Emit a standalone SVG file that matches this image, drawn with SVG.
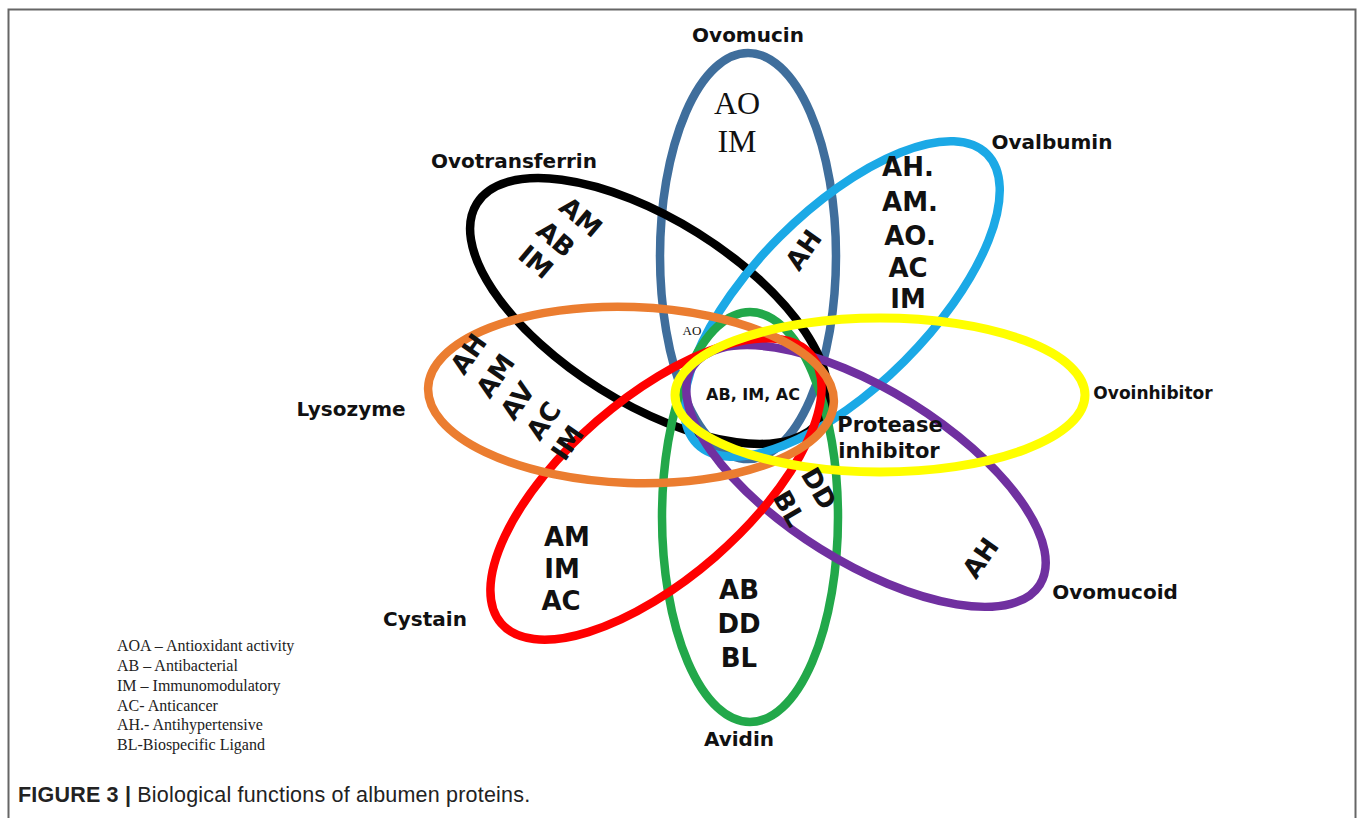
<svg xmlns="http://www.w3.org/2000/svg" width="1360" height="818" viewBox="0 0 1360 818">
<style>
.ring{fill:none;stroke-width:8.5}
.name{font-family:"DejaVu Sans","Liberation Sans",sans-serif;font-weight:bold;font-size:20px;fill:#111;text-anchor:middle}
.lab{font-family:"DejaVu Sans","Liberation Sans",sans-serif;font-weight:bold;font-size:26px;fill:#111;text-anchor:middle}
.ser{font-family:"Liberation Serif","Times New Roman",serif;fill:#111;text-anchor:middle}
.leg{font-family:"Liberation Serif","Times New Roman",serif;font-size:16px;fill:#222}
</style>
<rect x="0" y="0" width="1360" height="818" fill="#fff"/>
<rect x="8.5" y="9.5" width="1347" height="840" fill="none" stroke="#666" stroke-width="2"/>
<g id="connectors"></g>
<g id="ovomucin"><ellipse class="ring" cx="748" cy="256" rx="88" ry="203" stroke="#3F6E9C"/>
<text class="name" x="748" y="42">Ovomucin</text>
<text class="ser" x="737" y="114" style="font-size:32px">AO</text>
<text class="ser" x="737" y="152" style="font-size:32px">IM</text>
<text class="ser" x="692" y="335" style="font-size:13px">AO</text></g>
<g id="ovotransferrin"><ellipse class="ring" cx="649" cy="311" rx="203" ry="92" transform="rotate(32 649 311)" stroke="#000"/>
<text class="name" x="514" y="168">Ovotransferrin</text>
<text class="lab" transform="translate(575,224) rotate(40)">AM</text>
<text class="lab" transform="translate(550,246) rotate(40)">AB</text>
<text class="lab" transform="translate(530,269) rotate(40)">IM</text></g>
<g id="ovalbumin"><ellipse class="ring" cx="842" cy="299" rx="205" ry="88" transform="rotate(-45 842 299)" stroke="#1BA9E6"/>
<text class="name" x="1052" y="149">Ovalbumin</text>
<text class="lab" transform="translate(811,255) rotate(-55)">AH</text>
<text class="lab" x="908" y="176">AH.</text>
<text class="lab" x="910" y="211">AM.</text>
<text class="lab" x="910" y="245">AO.</text>
<text class="lab" x="908" y="277">AC</text>
<text class="lab" x="908" y="308">IM</text></g>
<g id="avidin"><ellipse class="ring" cx="750" cy="517" rx="88" ry="205" stroke="#22A84A"/>
<text class="name" x="739" y="746">Avidin</text>
<text class="lab" x="739" y="599">AB</text>
<text class="lab" x="739" y="633">DD</text>
<text class="lab" x="739" y="667">BL</text></g>
<g id="ovomucoid"><ellipse class="ring" cx="866" cy="476" rx="205" ry="86" transform="rotate(32 866 476)" stroke="#7030A0"/>
<text class="name" x="1115" y="599">Ovomucoid</text>
<text class="lab" transform="translate(988,563) rotate(-55)">AH</text></g>
<g id="cystain"><ellipse class="ring" cx="656" cy="489" rx="205" ry="90" transform="rotate(-41 656 489)" stroke="#FF0000"/>
<text class="name" x="425" y="626">Cystain</text>
<text class="lab" x="567" y="546">AM</text>
<text class="lab" x="562" y="578">IM</text>
<text class="lab" x="561" y="610">AC</text></g>
<g id="lysozyme"><ellipse class="ring" cx="631" cy="395" rx="203" ry="88" transform="rotate(2 631 395)" stroke="#EB7D30"/>
<text class="name" x="351" y="416">Lysozyme</text>
<text class="lab" transform="translate(476,359) rotate(-55)">AH</text>
<text class="lab" transform="translate(503,381) rotate(-55)">AM</text>
<text class="lab" transform="translate(525,406) rotate(-55)">AV</text>
<text class="lab" transform="translate(551,426) rotate(-55)">AC</text>
<text class="lab" transform="translate(575,448) rotate(-55)">IM</text></g>
<g id="ovoinhibitor"><ellipse class="ring" cx="880" cy="395" rx="205" ry="77" stroke="#FFFF00" style="stroke-width:9px"/>
<text class="name" x="1153" y="399" style="font-size:17px">Ovoinhibitor</text>
<text class="name" x="890" y="432" style="font-size:21px">Protease</text>
<text class="name" x="889" y="458" style="font-size:21px">inhibitor</text></g>
<g id="centre"><text class="name" x="753" y="400" style="font-size:16px">AB, IM, AC</text>
<text class="lab" transform="translate(811,493) rotate(60)">DD</text>
<text class="lab" transform="translate(781,513) rotate(60)">BL</text></g>
<g id="legend">
<text class="leg" x="117" y="651">AOA – Antioxidant  activity</text>
<text class="leg" x="117" y="671">AB – Antibacterial</text>
<text class="leg" x="117" y="691">IM – Immunomodulatory</text>
<text class="leg" x="117" y="711">AC- Anticancer</text>
<text class="leg" x="117" y="730">AH.- Antihypertensive</text>
<text class="leg" x="117" y="750">BL-Biospecific  Ligand</text>
</g>
<g id="caption"><text x="18" y="802" font-family="'Liberation Sans',Arial,sans-serif" font-size="21.5" letter-spacing="0.2" fill="#222"><tspan font-weight="bold">FIGURE 3 |</tspan> Biological functions of albumen proteins.</text></g>
</svg>
